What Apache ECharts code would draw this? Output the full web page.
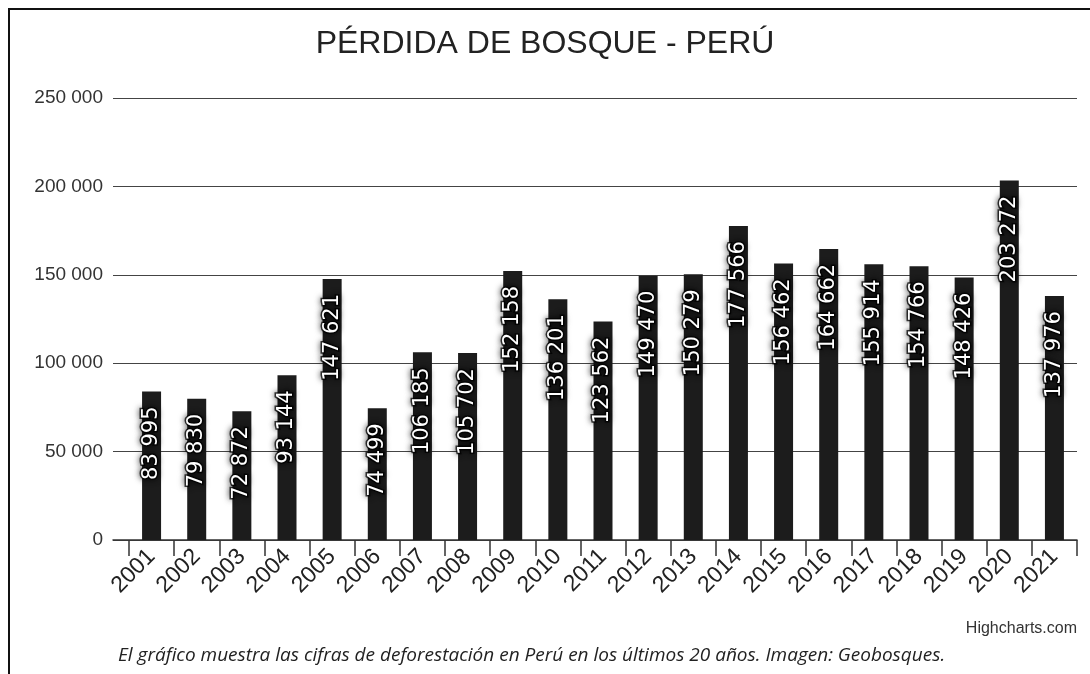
<!DOCTYPE html>
<html>
<head>
<meta charset="utf-8">
<title>Pérdida de bosque - Perú</title>
<script src="https://cdn.jsdelivr.net/npm/echarts@6/dist/echarts.min.js"></script>
<style>
  html, body { margin: 0; padding: 0; background: #fff; }
  #chart { width: 1090px; height: 674px; }
</style>
</head>
<body>
<div id="chart"></div>
<script>
// data
var years = ["2001", "2002", "2003", "2004", "2005", "2006", "2007", "2008", "2009", "2010", "2011",
  "2012", "2013", "2014", "2015", "2016", "2017", "2018", "2019", "2020", "2021"];
var hectares = [83995, 79830, 72872, 93144, 147621, 74499, 106185, 105702, 152158, 136201, 123562,
  149470, 150279, 177566, 156462, 164662, 155914, 154766, 148426, 203272, 137976];
var yMin = 0;
var yMax = 250000;
var yStep = 50000;

var titleText = "PÉRDIDA DE BOSQUE - PERÚ";
var creditText = "Highcharts.com";
var captionText = "El gráfico muestra las cifras de deforestación en Perú en los últimos 20 años. Imagen: Geobosques.";

function spaced(v) {
  return String(v).replace(/\B(?=(\d{3})+(?!\d))/g, " ");
}

var chart = echarts.init(document.getElementById("chart"));

chart.setOption({
  backgroundColor: "#fff",
  animation: false,
  title: {
    text: titleText,
    left: "center",
    top: 23,
    textStyle: {
      fontFamily: "Liberation Sans",
      fontSize: 32,
      fontWeight: "normal",
      color: "#222"
    }
  },
  // grid 0 carries the y gridlines and the long x axis line,
  // grid 1 carries the bars (categories start a bit to the right)
  grid: [
    { left: 113, right: 13, top: 98, bottom: 134, containLabel: false, outerBoundsMode: "none" },
    { left: 129, right: 13, top: 98, bottom: 134, containLabel: false, outerBoundsMode: "none" }
  ],
  xAxis: [
    {
      gridIndex: 0,
      type: "value",
      min: 0,
      max: 1,
      axisLine: { show: true, lineStyle: { color: "#333", width: 1.5 } },
      axisTick: { show: false },
      axisLabel: { show: false },
      splitLine: { show: false }
    },
    {
      gridIndex: 1,
      type: "category",
      data: years,
      boundaryGap: true,
      axisLine: { show: false },
      axisTick: { show: true, length: 16, lineStyle: { color: "#333", width: 1.5 } },
      axisLabel: {
        rotate: 45,
        margin: 13,
        interval: 0,
        fontFamily: "Liberation Sans",
        fontSize: 23,
        color: "#222"
      }
    }
  ],
  yAxis: [
    {
      gridIndex: 0,
      type: "value",
      min: yMin,
      max: yMax,
      interval: yStep,
      axisLine: { show: false },
      axisTick: { show: false },
      axisLabel: {
        margin: 10,
        fontFamily: "Liberation Sans",
        fontSize: 19,
        color: "#333",
        formatter: spaced
      },
      splitLine: { lineStyle: { color: "#444", width: 1 } }
    },
    {
      gridIndex: 1,
      type: "value",
      min: yMin,
      max: yMax,
      interval: yStep,
      show: false,
      splitLine: { show: false }
    }
  ],
  series: [
    {
      type: "bar",
      xAxisIndex: 1,
      yAxisIndex: 1,
      data: hectares,
      barWidth: 19,
      itemStyle: { color: "#1c1c1c" },
      label: {
        show: true,
        position: "insideTop",
        rotate: 90,
        align: "right",
        verticalAlign: "middle",
        distance: 15,
        fontFamily: "DejaVu Sans",
        fontSize: 21,
        color: "#fff",
        textBorderColor: "rgba(0,0,0,0.75)",
        textBorderWidth: 3,
        textShadowColor: "rgba(0,0,0,0.7)",
        textShadowBlur: 6,
        formatter: function (p) { return spaced(p.value); }
      }
    }
  ],
  graphic: [
    {
      type: "polyline",
      shape: { points: [[9, 674], [9, 9], [1090, 9]] },
      style: { stroke: "#111", lineWidth: 2, fill: null },
      silent: true
    },
    {
      type: "text",
      right: 13,
      top: 621,
      style: {
        text: creditText,
        font: "16px 'Liberation Sans'",
        fill: "#333"
      }
    },
    {
      type: "text",
      left: 118,
      top: 646,
      style: {
        text: captionText,
        font: "italic 19px 'Open Sans'",
        fill: "#222"
      }
    }
  ]
});
</script>
</body>
</html>
